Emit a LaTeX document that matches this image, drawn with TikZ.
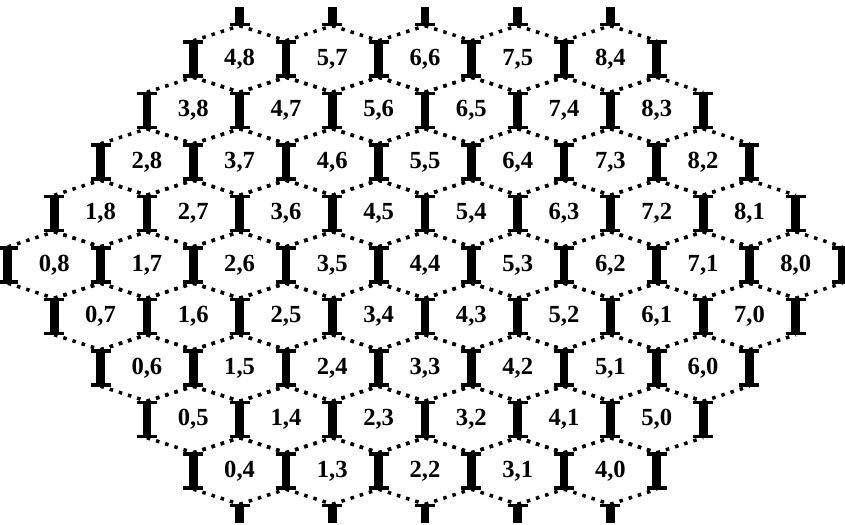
\documentclass[tikz,border=0pt]{standalone}
\usepackage{fontspec}
\setmainfont{Liberation Serif}
\usepackage{tikz}
\usetikzlibrary{calc}

\newcommand{\hexw}{46.35}
\newcommand{\hexh}{18.25}
\newcommand{\hexa}{33.25}

\tikzset{
	hexdots/.style={line width=3pt, dash pattern=on 3pt off 5.2pt},
	hexbar/.style={line width=7.5pt},
	hexserif/.style={line width=2.8pt}
}
\tikzset{
	celltext/.style={font=\bfseries\fontsize{21}{24}\selectfont}
}
\tikzset{
	hexcell/.pic={
			\draw[hexdots] (-\hexw,-\hexh) -- (0,-\hexa);
			\draw[hexdots] (0,-\hexa) -- (\hexw,-\hexh);
			\draw[hexdots] (-\hexw,\hexh) -- (0,\hexa);
			\draw[hexdots] (0,\hexa) -- (\hexw,\hexh);
			\draw[hexbar] (-\hexw,-\hexh) -- (-\hexw,\hexh);
			\draw[hexbar] (\hexw,-\hexh) -- (\hexw,\hexh);
			\draw[hexserif] (-\hexw-10,-\hexh+1.3) -- (-\hexw+10,-\hexh+1.3);
			\draw[hexserif] (-\hexw-10,\hexh-1.3) -- (-\hexw+10,\hexh-1.3);
			\draw[hexserif] (\hexw-10,-\hexh+1.3) -- (\hexw+10,-\hexh+1.3);
			\draw[hexserif] (\hexw-10,\hexh-1.3) -- (\hexw+10,\hexh-1.3);
		}
}

\begin{document}
\begin{tikzpicture}[x=0.3mm, y=-0.3mm]

	\useasboundingbox (0,0) rectangle (845,525);

	% cells, row = i+j
	\foreach \i in {0,...,8}{
		\foreach \j in {0,...,8}{
			\pgfmathtruncatemacro{\s}{\i+\j}
			\ifnum\s>3 \ifnum\s<13
				\coordinate (m-\i-\j) at ({425+\hexw*(\i-\j)},{265-51.5*(\s-8)});
				\pic at (m-\i-\j) {hexcell};
				\node[celltext] (l-\i-\j) at (m-\i-\j) {\i,\j};
			\fi\fi
		}
	}

	% stubs on top and bottom
	\foreach \i in {4,...,8}{
		\pgfmathtruncatemacro{\j}{12-\i}
		\path (m-\i-\j) ++(0,-\hexa) coordinate (ta-\i) ++(0,-18.75) coordinate (tb-\i);
		\draw[hexbar] (ta-\i) -- (tb-\i);
		\draw[hexserif] ($(ta-\i)+(-10,-1.3)$) -- ($(ta-\i)+(10,-1.3)$);
	}
	\foreach \i in {0,...,4}{
		\pgfmathtruncatemacro{\j}{4-\i}
		\path (m-\i-\j) ++(0,\hexa) coordinate (ba-\i) ++(0,18.75) coordinate (bb-\i);
		\draw[hexbar] (ba-\i) -- (bb-\i);
		\draw[hexserif] ($(ba-\i)+(-10,1.3)$) -- ($(ba-\i)+(10,1.3)$);
	}

\end{tikzpicture}
\end{document}
